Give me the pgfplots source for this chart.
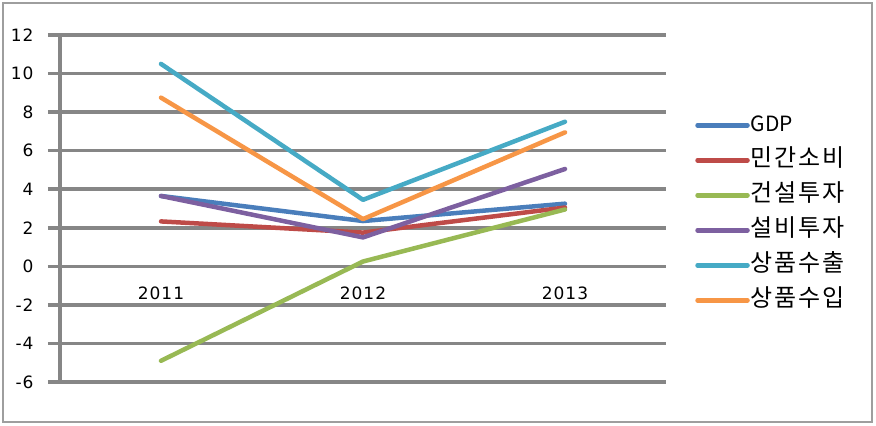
\documentclass[border=0pt]{standalone}
\usepackage{pgfplots}
\pgfplotsset{compat=1.18}
\usepackage{fontspec}
\setmainfont[LetterSpace=6]{DejaVu Sans}
\newfontfamily\kr[LetterSpace=8]{Noto Sans CJK KR}
\newfontfamily\krl{Noto Sans CJK KR}
\definecolor{cGDP}{RGB}{74,126,187}
\definecolor{cCons}{RGB}{190,75,72}
\definecolor{cBuild}{RGB}{152,185,84}
\definecolor{cEquip}{RGB}{125,96,160}
\definecolor{cExp}{RGB}{70,170,197}
\definecolor{cImp}{RGB}{247,150,70}
\definecolor{gridgray}{RGB}{134,134,134}
\begin{document}
\begin{tikzpicture}
\path[use as bounding box] (0,0) rectangle (876bp,426bp);
\draw[gridgray!80, line width=1.5bp] (3bp,4bp) rectangle (872bp,423bp);
\begin{axis}[
  at={(60bp,44bp)}, anchor=south west,
  scale only axis, width=606bp, height=347bp,
  xmin=-0.5, xmax=2.5, ymin=-6, ymax=12,
  axis x line=middle, axis y line=left,
  axis line style={gridgray, line width=3.5bp, -},
  hide obscured x ticks=false, hide obscured y ticks=false,
  ytick={-6,-4,...,12},
  ymajorgrids, grid style={gridgray, line width=3.5bp},
  y tick style={gridgray, line width=3.5bp},
  tick align=outside, major tick length=12bp,
  xtick={0,1,2}, xticklabels={2011,2012,2013},
  x tick style={draw=none},
  extra x ticks={0.5,1.5,2.5}, extra x tick labels={},
  extra x tick style={grid=none, major tick length=6bp, tick style={gridgray, line width=3bp, draw=gridgray}},
  /pgf/number format/assume math mode=true,
  tick label style={font=\fontsize{17bp}{19bp}\selectfont, text=black},
  yticklabel style={xshift=-11bp},
  xticklabel style={yshift=-5bp},
  legend style={draw=none, fill=none, at={(1.048,0.772)}, anchor=north west,
    inner sep=0pt, font=\kr\fontsize{24bp}{26bp}\selectfont,
    nodes={inner sep=1bp, text height=16bp, text depth=4bp, anchor=west},
    row sep=13bp},
  legend cell align=left,
  legend image code/.code={\draw[#1, line width=4.5bp, line cap=round] (0bp,0bp) -- (50bp,0bp);},
  every axis plot/.append style={line width=4.5bp, line cap=round, line join=round, mark=none},
  clip=false,
]
\addplot[cGDP] coordinates {(0,3.65) (1,2.35) (2,3.25)};
\addlegendentry{{\krl\fontsize{21bp}{24bp}\selectfont GDP}}
\addplot[cCons] coordinates {(0,2.33) (1,1.75) (2,3.05)};
\addlegendentry{민간소비}
\addplot[cBuild] coordinates {(0,-4.9) (1,0.25) (2,2.95)};
\addlegendentry{건설투자}
\addplot[cEquip] coordinates {(0,3.65) (1,1.5) (2,5.05)};
\addlegendentry{설비투자}
\addplot[cExp] coordinates {(0,10.5) (1,3.45) (2,7.5)};
\addlegendentry{상품수출}
\addplot[cImp] coordinates {(0,8.75) (1,2.45) (2,6.95)};
\addlegendentry{상품수입}
\end{axis}
\end{tikzpicture}
\end{document}
